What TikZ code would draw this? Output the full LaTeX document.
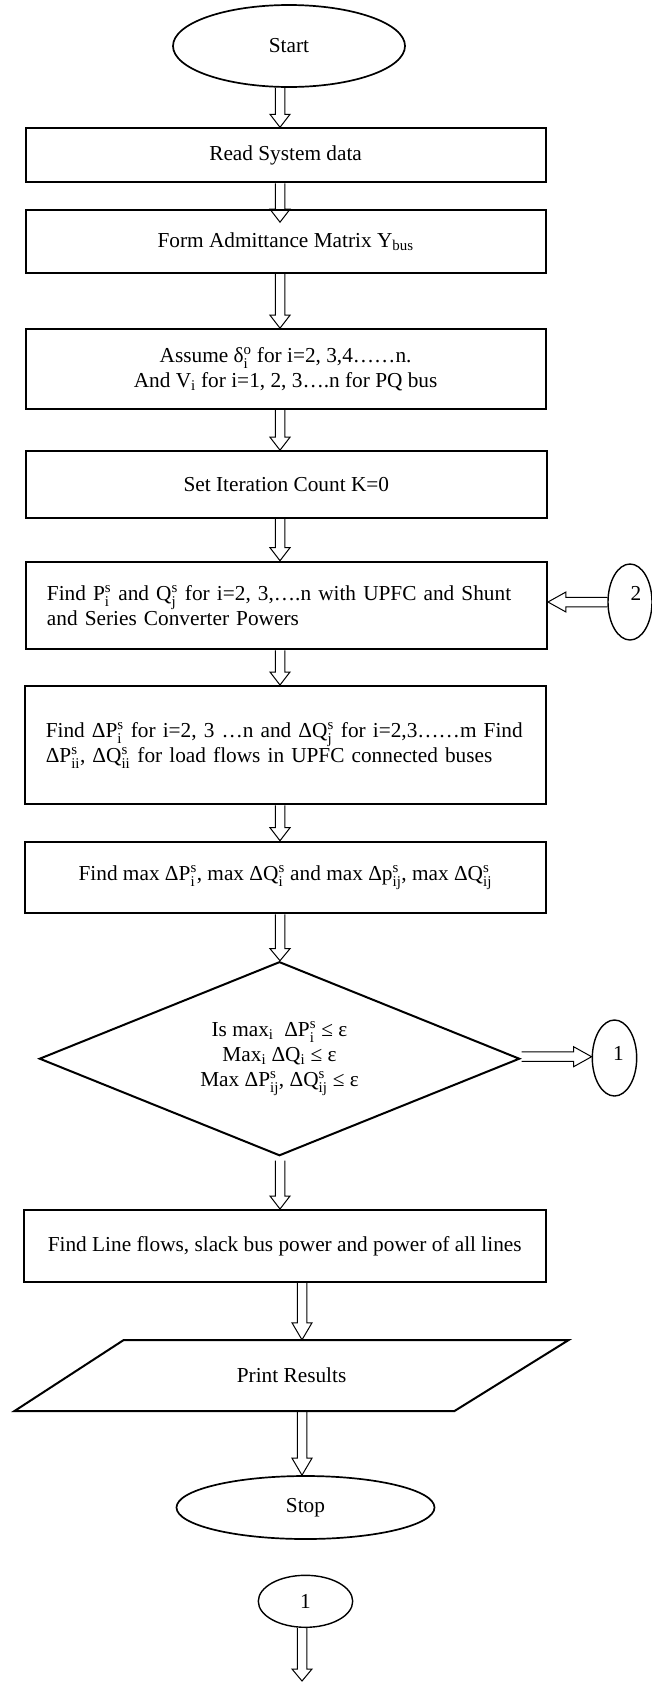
\documentclass[tikz,border=0pt]{standalone}
\usepackage{fontspec}
\usepackage{amsmath}
\setmainfont{Liberation Serif}
\usetikzlibrary{shapes.geometric,calc}

\newcommand\supsub[2]{${}^{\text{#1}}_{\text{#2}}$}

% vertical (downward) block arrow: start, end, head length
\newcommand\varrowblk[3]{%
  \draw[blk] let \p1=#1, \p2=#2 in
    (\x1-4.75pt,\y1) -- (\x1-4.75pt,\y2+#3) -- (\x1-10pt,\y2+#3) -- (\x1,\y2)
    -- (\x1+10pt,\y2+#3) -- (\x1+4.75pt,\y2+#3) -- (\x1+4.75pt,\y1);}
% rightward block arrow
\newcommand\rarrowblk[3]{%
  \draw[blk] let \p1=#1, \p2=#2 in
    (\x1,\y1+4.75pt) -- (\x2-#3,\y1+4.75pt) -- (\x2-#3,\y1+10pt) -- (\x2,\y1)
    -- (\x2-#3,\y1-10pt) -- (\x2-#3,\y1-4.75pt) -- (\x1,\y1-4.75pt);}
% leftward block arrow
\newcommand\larrowblk[3]{%
  \draw[blk] let \p1=#1, \p2=#2 in
    (\x1,\y1+4.75pt) -- (\x2+#3,\y1+4.75pt) -- (\x2+#3,\y1+10pt) -- (\x2,\y1)
    -- (\x2+#3,\y1-10pt) -- (\x2+#3,\y1-4.75pt) -- (\x1,\y1-4.75pt);}

\tikzset{
  box/.style={draw, line width=2pt, rectangle, inner sep=0pt, align=center},
  term/.style={draw, line width=1.7pt, ellipse, inner sep=0pt},
  conn/.style={draw, line width=1.4pt, ellipse, inner sep=0pt},
  blk/.style={draw, line width=1pt, line join=miter},
  shapeline/.style={draw, line width=2pt, line join=miter},
}

\begin{document}
\lineskiplimit=-30pt
\begin{tikzpicture}[x=1pt, y=-1pt, font=\fontsize{21.3}{25}\selectfont]
\path[use as bounding box, fill=white] (0,0) rectangle (651,1682);

\coordinate (ax) at (280,0);
\coordinate (bx) at (302,0);
\coordinate (endpt) at (302,1681);

\node[term, minimum width=232, minimum height=82] (start) at (289,46) {Start};

\node[box, minimum width=520, minimum height=54] (read) at (285.6,155.3) {Read System data};

\node[box, minimum width=520, minimum height=63] (form) at (285.6,241.7)
  {Form Admittance Matrix Y\textsubscript{bus}};

\node[box, minimum width=520, minimum height=80] (assume) at (285.6,369.2)
  {Assume δ\supsub{o}{i} for i=2, 3,4……n.\\And V\textsubscript{i} for i=1, 2, 3….n for PQ bus};

\node[box, minimum width=521.3, minimum height=67] (set) at (286.3,484.7) {Set Iteration Count K=0};

\node[box, minimum width=521.3, minimum height=87.6, text width=478.7, inner xsep=21.3pt, align=left]
  (findp) at (286.3,605.5)
  {Find P\supsub{s}{i} and Q\supsub{s}{j} for i=2, 3,….n with UPFC and Shunt\\and Series Converter Powers};

\node[box, minimum width=520.5, minimum height=118.3, text width=479, inner xsep=20.7pt, align=left]
  (dp) at (285.25,745.15)
  {Find ΔP\supsub{s}{i} for i=2, 3 …n and ΔQ\supsub{s}{j} for i=2,3……m Find\\ΔP\supsub{s}{ii}, ΔQ\supsub{s}{ii} for load flows in UPFC connected buses};

\node[box, minimum width=520.5, minimum height=71.6] (findmax) at (285.25,877.5)
  {Find max ΔP\supsub{s}{i}, max ΔQ\supsub{s}{i} and max Δp\supsub{s}{ij}, max ΔQ\supsub{s}{ij}};

\node[draw, diamond, aspect=2.47, line width=2pt, line join=miter, minimum width=480.3, minimum height=194,
  inner sep=0pt, align=center] (dec) at (279.5,1058.7)
  {Is max\textsubscript{i}\ \ ΔP\supsub{s}{i} ≤ ε\\Max\textsubscript{i} ΔQ\textsubscript{i} ≤ ε\\Max ΔP\supsub{s}{ij}, ΔQ\supsub{s}{ij} ≤ ε};

\node[conn, minimum width=44.4, minimum height=76] (c1r) at (614.5,1058)
  {\raisebox{5pt}[\height][\depth]{\makebox[0pt]{\hspace{8pt}1}}};

\node[conn, minimum width=44, minimum height=76] (c2) at (630,602)
  {\raisebox{9pt}[\height][\depth]{\makebox[0pt]{\hspace{12pt}2}}};

\node[box, minimum width=521.5, minimum height=71.7] (lines) at (284.75,1245.85)
  {Find Line flows, slack bus power and power of all lines};

\node[inner sep=0pt, minimum width=440, minimum height=71] (print) at (291.6,1375.5) {Print Results};
\draw[shapeline] (14.5,1411) -- (123.7,1340) -- (568.7,1340) -- (454.5,1411) -- cycle;

\node[term, minimum width=258, minimum height=63] (stop) at (305.5,1507.5) {Stop};

\node[conn, minimum width=94.4, minimum height=52] (c1b) at (305.5,1601.3) {1};

% connectors
\varrowblk{(start.south -| ax)}{(read.north -| ax)}{13pt}
\varrowblk{(read.south -| ax)}{($(form.north -| ax)+(0,13)$)}{13pt}
\varrowblk{(form.south -| ax)}{(assume.north -| ax)}{13pt}
\varrowblk{(assume.south -| ax)}{(set.north -| ax)}{13pt}
\varrowblk{(set.south -| ax)}{(findp.north -| ax)}{13pt}
\varrowblk{(findp.south -| ax)}{(dp.north -| ax)}{13pt}
\varrowblk{(dp.south -| ax)}{(findmax.north -| ax)}{13pt}
\varrowblk{(findmax.south -| ax)}{(dec.north -| ax)}{12pt}
\varrowblk{($(dec.south -| ax)+(0,4)$)}{(lines.north -| ax)}{13pt}
\varrowblk{(lines.south -| bx)}{(print.north -| bx)}{17pt}
\varrowblk{(print.south -| bx)}{(stop.north -| bx)}{17pt}
\varrowblk{(c1b.south -| bx)}{(endpt)}{12pt}
\larrowblk{(c2.west)}{(findp.east |- c2.west)}{18pt}
\rarrowblk{($(dec.east)+(1,-2)$)}{(c1r.west)}{18pt}
\end{tikzpicture}
\end{document}
